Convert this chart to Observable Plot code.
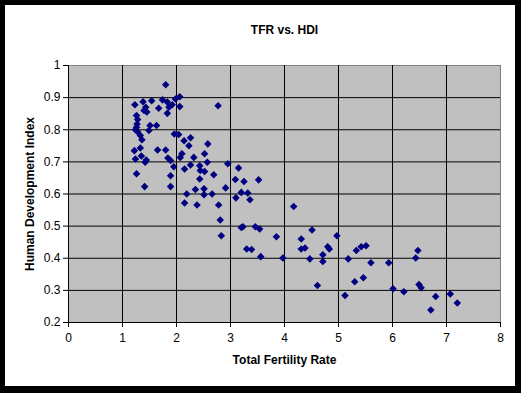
<!DOCTYPE html>
<html>
<head>
<meta charset="utf-8">
<script src="https://cdn.jsdelivr.net/npm/d3@7"></script>
<script src="https://cdn.jsdelivr.net/npm/@observablehq/plot@0.6"></script>
<style>
  html, body { margin: 0; padding: 0; background: #000; width: 521px; height: 393px; overflow: hidden; }
  #frame { position: absolute; left: 5px; top: 5px; width: 510px; height: 381px; background: #fff; }
  #frame svg { display: block; }
</style>
</head>
<body>
<div id="frame"></div>
<script>
const title = "TFR vs. HDI";
const xLabel = "Total Fertility Rate";
const yLabel = "Human Development Index";
const xTicks = [0, 1, 2, 3, 4, 5, 6, 7, 8];
const yTicks = [0.2, 0.3, 0.4, 0.5, 0.6, 0.7, 0.8, 0.9, 1];

const tfr = [
  1.80, 1.23, 1.38, 1.54, 1.43, 1.40, 1.45, 1.67, 1.74, 1.83,
  1.86, 1.92, 1.98, 2.06, 2.06, 1.83, 2.77, 1.26, 1.28, 1.27,
  1.26, 1.28, 1.33, 1.36, 1.51, 1.63, 1.49, 1.24, 1.96, 2.04,
  2.14, 2.26, 2.23, 2.58, 2.52, 2.32, 2.10, 2.07, 1.65, 1.80,
  1.84, 1.89, 1.95, 1.22, 1.33, 1.24, 1.35, 1.44, 1.42, 2.15,
  2.26, 2.43, 2.57, 2.44, 2.52, 2.95, 1.26, 1.89, 2.69, 2.43,
  1.41, 1.89, 2.19, 2.35, 2.51, 2.66, 2.91, 2.51, 3.09, 3.25,
  3.52, 3.15, 3.10, 3.20, 3.32, 3.36, 2.15, 2.38, 2.78, 2.81,
  2.83, 3.20, 3.23, 3.46, 3.54, 3.85, 3.30, 3.39, 3.56, 4.17,
  3.97, 4.31, 4.31, 4.38, 4.51, 4.47, 4.61, 4.71, 4.71, 4.80,
  4.83, 4.97, 5.12, 5.18, 5.30, 5.33, 5.42, 5.46, 5.51, 5.60,
  5.93, 6.01, 6.21, 6.43, 6.47, 6.49, 6.53, 6.71, 6.80, 7.07,
  7.20
];
const hdi = [
  0.940, 0.878, 0.887, 0.890, 0.870, 0.860, 0.855, 0.867, 0.893, 0.886,
  0.870, 0.878, 0.896, 0.903, 0.872, 0.851, 0.875, 0.844, 0.832, 0.818,
  0.808, 0.794, 0.782, 0.769, 0.813, 0.813, 0.798, 0.800, 0.787, 0.785,
  0.766, 0.775, 0.750, 0.756, 0.725, 0.714, 0.725, 0.714, 0.737, 0.737,
  0.712, 0.704, 0.685, 0.735, 0.743, 0.709, 0.718, 0.706, 0.699, 0.678,
  0.690, 0.688, 0.699, 0.673, 0.670, 0.694, 0.663, 0.657, 0.660, 0.647,
  0.623, 0.623, 0.600, 0.614, 0.616, 0.600, 0.619, 0.598, 0.645, 0.639,
  0.644, 0.681, 0.588, 0.605, 0.603, 0.582, 0.572, 0.566, 0.566, 0.519,
  0.470, 0.496, 0.498, 0.498, 0.491, 0.467, 0.429, 0.427, 0.405, 0.561,
  0.401, 0.460, 0.429, 0.432, 0.488, 0.398, 0.315, 0.411, 0.390, 0.436,
  0.429, 0.470, 0.284, 0.398, 0.327, 0.424, 0.436, 0.339, 0.439, 0.386,
  0.386, 0.305, 0.296, 0.401, 0.424, 0.318, 0.308, 0.239, 0.281, 0.289,
  0.261
];

const points = tfr.map((x, i) => ({x, y: hdi[i]}));
const font = "Arial, 'Liberation Sans', sans-serif";
const fmtY = d => String(+d.toFixed(1));

const chart = Plot.plot({
  width: 510,
  height: 381,
  marginLeft: 63,
  marginRight: 15,
  marginTop: 60,
  marginBottom: 64,
  style: {fontFamily: font, fontSize: "12px", color: "#000", background: "#fff", overflow: "visible"},
  x: {domain: [0, 8], ticks: xTicks, tickFormat: d => String(d), label: null},
  y: {domain: [0.2, 1], ticks: yTicks, tickFormat: fmtY, label: null},
  marks: [
    Plot.frame({fill: "#c0c0c0", stroke: "#808080"}),
    Plot.gridX(xTicks.slice(1, -1), {stroke: "#000", strokeOpacity: 1, strokeWidth: 1}),
    Plot.gridY(yTicks.slice(1, -1), {stroke: "#000", strokeOpacity: 1, strokeWidth: 1}),
    Plot.ruleX([0], {stroke: "#000"}),
    Plot.ruleY([0.2], {stroke: "#000"}),
    Plot.axisX({ticks: xTicks, tickFormat: d => String(d), tickSize: 5, tickPadding: 6, stroke: "#000", fill: "#000", fontSize: 12, label: null}),
    Plot.axisY({ticks: yTicks, tickFormat: fmtY, tickSize: 5, tickPadding: 3, stroke: "#000", fill: "#000", fontSize: 12, label: null}),
    Plot.dot(points, {x: "x", y: "y", symbol: "diamond2", r: 3.4, fill: "#000080", stroke: "none"}),
    Plot.text([title], {frameAnchor: "top", dy: -40, fontWeight: "bold", fontSize: 12, fill: "#000"}),
    Plot.text([xLabel], {frameAnchor: "bottom", dy: 41, fontWeight: "bold", fontSize: 12, fill: "#000"}),
    Plot.text([yLabel], {frameAnchor: "left", textAnchor: "middle", dx: -38, rotate: -90, fontWeight: "bold", fontSize: 12, fill: "#000"})
  ]
});
document.getElementById("frame").appendChild(chart);
</script>
</body>
</html>
